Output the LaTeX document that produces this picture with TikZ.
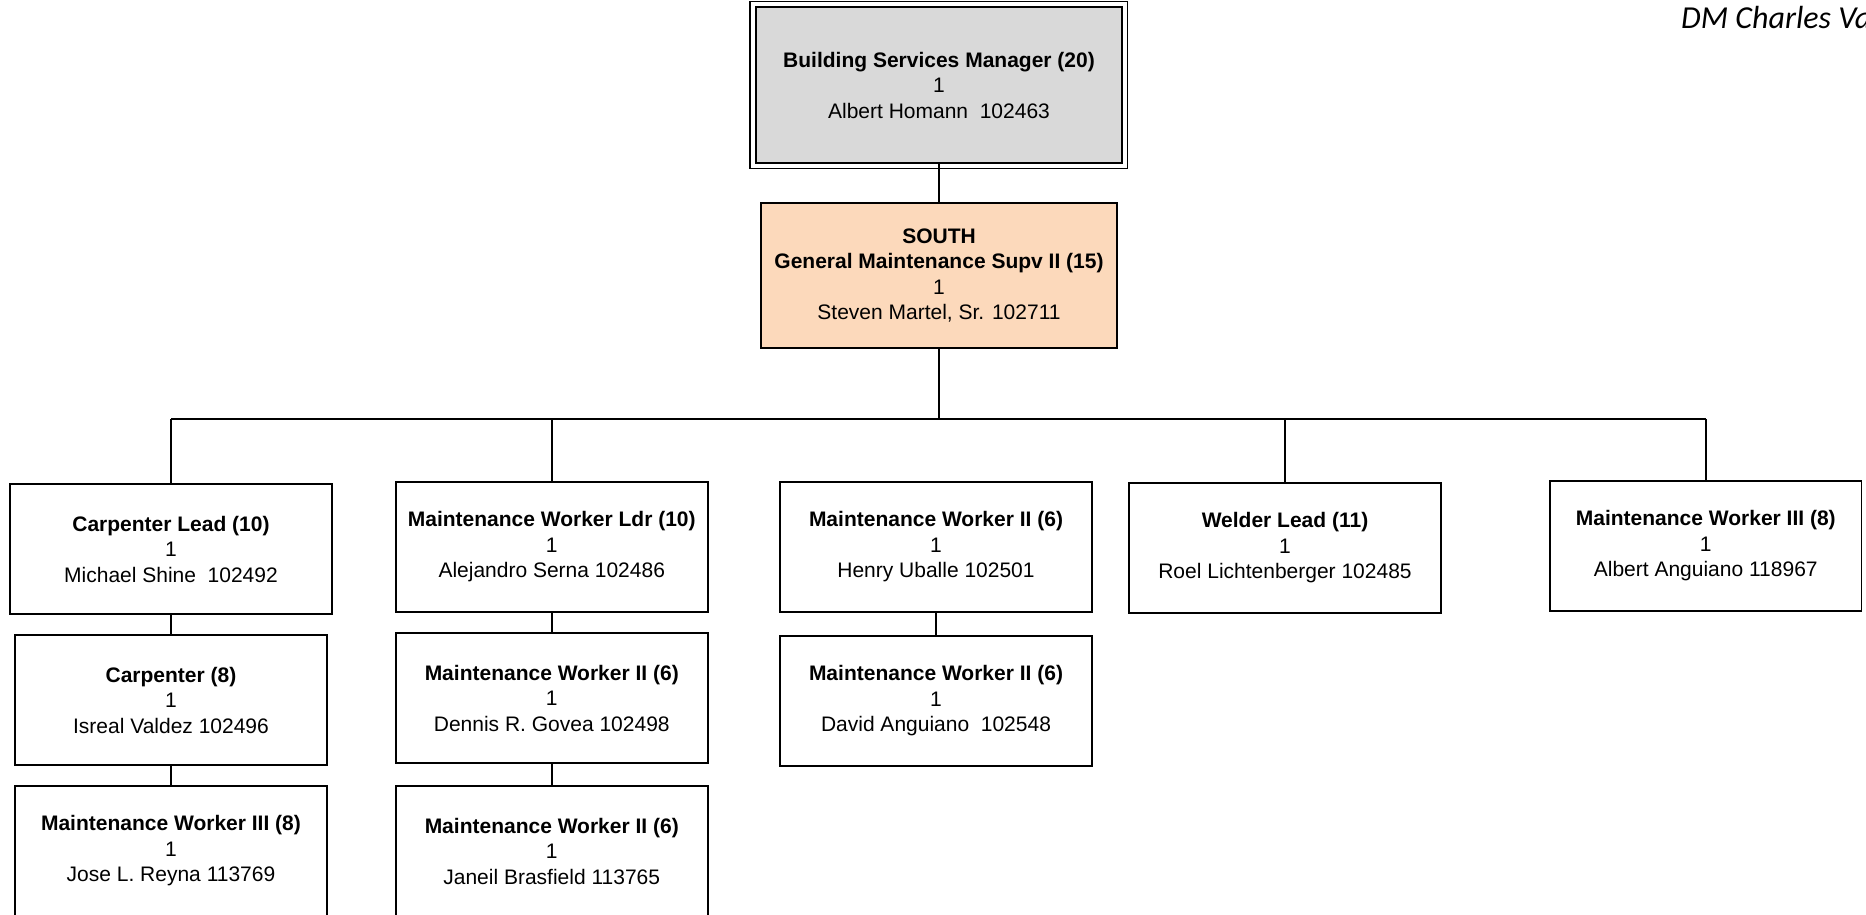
\documentclass[tikz,border=0pt]{standalone}
\usepackage{fontspec}
\setmainfont{Liberation Sans}
\newfontfamily\dmfont{Carlito}
\definecolor{mgrgray}{HTML}{D9D9D9}
\definecolor{peach}{HTML}{FCD9BB}
\begin{document}
\begin{tikzpicture}[x=1pt,y=-1pt,
  posbox/.style={draw=black, line width=1.6pt, fill=white, align=center, inner sep=0pt,
    minimum width=312pt, minimum height=130pt, font=\fontsize{21}{25.5}\selectfont},
  conn/.style={draw=black, line width=1.6pt},
  thickconn/.style={draw=black, line width=2.6pt}]
\useasboundingbox (0,0) rectangle (1866,914);

% top manager box (double border)
\node[posbox, fill=mgrgray, line width=2pt, minimum width=366pt, minimum height=156pt] (bsm) at (939,85)
  {\textbf{Building Services Manager (20)}\\1\\Albert Homann\ \ 102463};
\draw[line width=1.5pt] ([shift={(-5,-4.5)}]bsm.north west) rectangle ([shift={(4.5,4.5)}]bsm.south east);

% south supervisor
\node[posbox, fill=peach, line width=2.4pt, minimum width=356pt, minimum height=145pt] (sup) at (939,275.5)
  {\textbf{SOUTH}\\\textbf{General Maintenance Supv II (15)}\\1\\Steven Martel, Sr. 102711};

% row 1
\node[posbox, minimum width=322pt] (cl) at (171,549)
  {\textbf{Carpenter Lead (10)}\\1\\Michael Shine\ \ 102492};
\node[posbox] (mwl) at (551.75,546.75)
  {\textbf{Maintenance Worker Ldr (10)}\\1\\Alejandro Serna 102486};
\node[posbox] (hu) at (936,547)
  {\textbf{Maintenance Worker II (6)}\\1\\Henry Uballe 102501};
\node[posbox] (wl) at (1285,548)
  {\textbf{Welder Lead (11)}\\1\\Roel Lichtenberger 102485};
\node[posbox, minimum width=311.5pt] (aa) at (1705.75,546)
  {\textbf{Maintenance Worker III (8)}\\1\\Albert Anguiano 118967};

% row 2
\node[posbox] (cp) at (171,700)
  {\textbf{Carpenter (8)}\\1\\Isreal Valdez 102496};
\node[posbox] (dg) at (551.75,698)
  {\textbf{Maintenance Worker II (6)}\\1\\Dennis R. Govea 102498};
\node[posbox] (da) at (936,701)
  {\textbf{Maintenance Worker II (6)}\\1\\David Anguiano\ \ 102548};

% row 3
\node[posbox] (jr) at (171,851)
  {\textbf{Maintenance Worker III (8)}\\1\\Jose L. Reyna 113769};
\node[posbox] (jb) at (551.75,851)
  {\textbf{Maintenance Worker II (6)}\\1\\Janeil Brasfield 113765};

% bus
\coordinate (busL) at (171,419);
\coordinate (busR) at (1705.75,419);

% connectors
\draw[conn] (bsm.south) -- (sup.north);
\draw[thickconn] (sup.south) -- (sup.south |- busL);
\draw[conn] (busL) -- (busR);
\draw[conn] (busL) -- (cl.north);
\draw[conn] (mwl.north |- busL) -- (mwl.north);
\draw[conn] (wl.north |- busL) -- (wl.north);
\draw[conn] (busR) -- (aa.north);
\draw[conn] (cl.south) -- (cp.north);
\draw[conn] (cp.south) -- (jr.north);
\draw[conn] (mwl.south) -- (dg.north);
\draw[conn] (dg.south) -- (jb.north);
\draw[conn] (hu.south) -- (da.north);

% corner label
\node[anchor=base west, inner sep=0pt, font=\dmfont\itshape\fontsize{32}{32}\selectfont] (dm) at (1681,28) {DM Charles Va};
\end{tikzpicture}
\end{document}
